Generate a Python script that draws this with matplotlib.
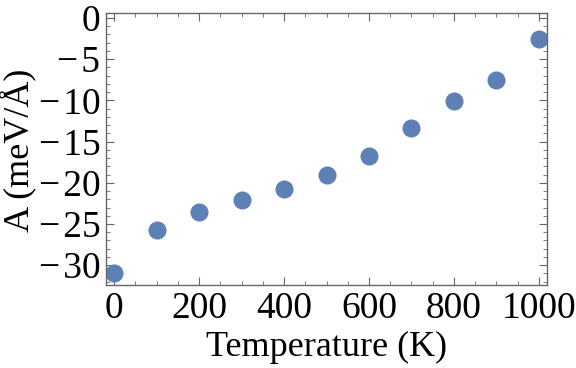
import numpy as np
import matplotlib
matplotlib.use("Agg")
import matplotlib.pyplot as plt
from matplotlib.ticker import MultipleLocator

# Data
temperature = [0, 100, 200, 300, 400, 500, 600, 700, 800, 900, 1000]
A_values = [-31.0, -25.7, -23.5, -22.1, -20.7, -19.1, -16.8, -13.4, -10.1, -7.5, -2.5]

plt.rcParams["font.family"] = ["Liberation Serif", "DejaVu Serif"]

fig = plt.figure(figsize=(5.76, 3.68), dpi=100)
ax = fig.add_axes([106 / 576, 1 - 285 / 368, 441 / 576, 272 / 368])

ax.plot(temperature, A_values, "o", color="#5E81B5", markersize=13, markeredgewidth=0)

ax.set_xlim(-19, 1019)
ax.set_ylim(-32.4, 0.6)

ax.xaxis.set_major_locator(MultipleLocator(200))
ax.xaxis.set_minor_locator(MultipleLocator(50))
ax.yaxis.set_major_locator(MultipleLocator(5))
ax.yaxis.set_minor_locator(MultipleLocator(1))

# gray Mathematica-like frame, ticks inside on all sides
frame_col = "#666666"
for s in ax.spines.values():
    s.set_color(frame_col)
    s.set_linewidth(1.0)
ax.tick_params(which="both", direction="in", top=True, right=True, color=frame_col, labelsize=27)
ax.tick_params(which="major", length=6, width=0.8)
ax.tick_params(axis="x", which="major", pad=5)
ax.tick_params(axis="y", which="major", pad=4)
ax.tick_params(which="minor", length=3, width=0.6)

ax.yaxis.set_major_formatter(plt.FuncFormatter(lambda v, p: f"{int(v)}".replace("-", "\u2212\u200a")))

ax.set_xlabel("Temperature (K)", fontsize=26, va="center")
ax.set_ylabel("A (meV/\u00c5)", fontsize=26, va="center")
ax.xaxis.set_label_coords((327 - 106) / 441, -(347 - 285) / 272)
ax.yaxis.set_label_coords(-(106 - 18) / 441, (285 - 150) / 272)

fig.savefig("out.png", dpi=100)
